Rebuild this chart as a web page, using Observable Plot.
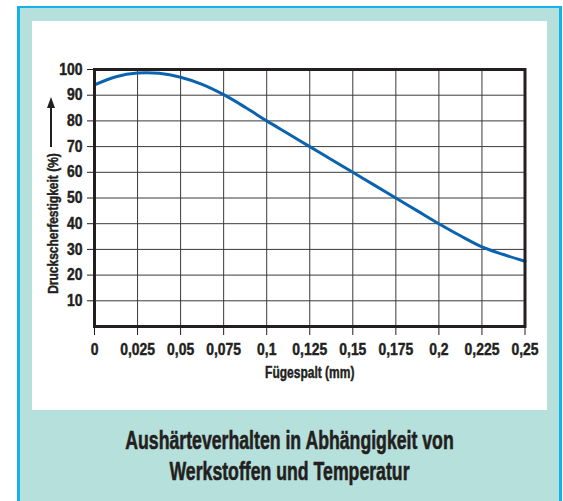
<!DOCTYPE html>
<html>
<head>
<meta charset="utf-8">
<script src="https://cdn.jsdelivr.net/npm/d3@7"></script>
<script src="https://cdn.jsdelivr.net/npm/@observablehq/plot@0.6"></script>
<style>
  html, body { margin: 0; padding: 0; background: #ffffff; width: 563px; height: 501px; overflow: hidden; }
  #box { position: absolute; left: 17px; top: 6px; width: 539px; height: 510px;
         border-left: 3px solid #14b2ea; border-right: 3px solid #14b2ea; border-top: 2px solid #14b2ea;
         background: #b6e0db; }
  #panel { position: absolute; left: 32px; top: 21px; width: 515px; height: 389px; background: #ffffff; }
  #chart { position: absolute; left: 32px; top: 21px; }
  #title { position: absolute; left: 17px; width: 545px; top: 425px; text-align: center;
           font-family: "Liberation Sans", Arial, sans-serif;
           font-weight: bold; font-size: 26px; line-height: 31px; color: #231f20;
           -webkit-text-stroke: 0.6px #231f20; }
  #title div { transform: scaleX(0.68); transform-origin: 50% 50%; white-space: nowrap; }
  #chart svg text { stroke: #231f20; stroke-width: 0.45px; paint-order: fill; }
</style>
</head>
<body>
<div id="box"></div>
<div id="panel"></div>
<div id="chart"></div>
<div id="title"><div>Aushärteverhalten in Abhängigkeit von</div><div>Werkstoffen und Temperatur</div></div>
<script>
// Data
const spalt = [0, 0.0125, 0.025, 0.0375, 0.05, 0.0625, 0.075, 0.0875, 0.1, 0.1125, 0.125, 0.1375, 0.15, 0.1625, 0.175, 0.1875, 0.2, 0.2125, 0.225, 0.2375, 0.25];
const festigkeit = [94, 97.2, 98.6, 98.5, 97, 94.2, 90.2, 85.3, 80, 75, 70, 65, 60, 55, 50, 45, 40, 35.3, 31, 28, 25.4];
const xTicks = [0, 0.025, 0.05, 0.075, 0.1, 0.125, 0.15, 0.175, 0.2, 0.225, 0.25];
const yTicks = [10, 20, 30, 40, 50, 60, 70, 80, 90, 100];
const xLabel = "Fügespalt (mm)";
const yLabel = "Druckscherfestigkeit (%)";

const data = spalt.map((x, i) => ({x, y: festigkeit[i]}));
const fontFamily = '"Liberation Sans", Arial, sans-serif';
const fmt = d => String(d).replace(".", ",");

const plot = Plot.plot({
  width: 515,
  height: 389,
  marginLeft: 62,
  marginRight: 22.5,
  marginTop: 48,
  marginBottom: 84,
  style: {fontFamily, fontSize: "16px", fontWeight: "bold", color: "#231f20", background: "transparent"},
  x: {domain: [0, 0.25]},
  y: {domain: [0, 100]},
  marks: [
    Plot.gridX(xTicks, {stroke: "#3a3a3a", strokeOpacity: 1, strokeWidth: 1}),
    Plot.gridY(yTicks, {stroke: "#3a3a3a", strokeOpacity: 1, strokeWidth: 1}),
    Plot.axisX(xTicks, {tickSize: 9, tickPadding: 8, tickFormat: fmt, label: null, stroke: "#231f20"}),
    Plot.axisY(yTicks, {tickSize: 7, tickPadding: 5, label: null, stroke: "#231f20"}),
    Plot.line(data, {x: "x", y: "y", stroke: "#0b63b0", strokeWidth: 3, curve: "catmull-rom"}),
    Plot.frame({stroke: "#231f20", strokeWidth: 3}),
    Plot.text([xLabel], {frameAnchor: "bottom", lineAnchor: "middle", dy: 46, fontSize: 16, fontWeight: "bold", fill: "#231f20"}),
    Plot.text([yLabel], {frameAnchor: "left", textAnchor: "middle", lineAnchor: "middle", rotate: -90, dx: -41, dy: 25.5, fontSize: 15, fontWeight: "bold", fill: "#231f20"})
  ]
});
document.getElementById("chart").appendChild(plot);

// Condense text horizontally (reference uses a condensed typeface)
d3.select(plot).selectAll("text").each(function() {
  const content = this.textContent;
  const s = content === xLabel ? 0.75 : content === yLabel ? 0.8 : 0.87;
  const len = this.getComputedTextLength();
  if (len > 0) {
    this.setAttribute("textLength", (len * s).toFixed(2));
    this.setAttribute("lengthAdjust", "spacingAndGlyphs");
  }
});

// Decorative arrow next to the y-axis label
const svg = d3.select(plot);
const ax = 19, yBottom = 126, yTip = 76;
svg.append("line").attr("x1", ax).attr("x2", ax).attr("y1", yBottom).attr("y2", yTip + 8)
  .attr("stroke", "#231f20").attr("stroke-width", 2);
svg.append("path").attr("d", `M${ax},${yTip} L${ax - 4},${yTip + 11} L${ax + 4},${yTip + 11} Z`)
  .attr("fill", "#231f20");
</script>
</body>
</html>
